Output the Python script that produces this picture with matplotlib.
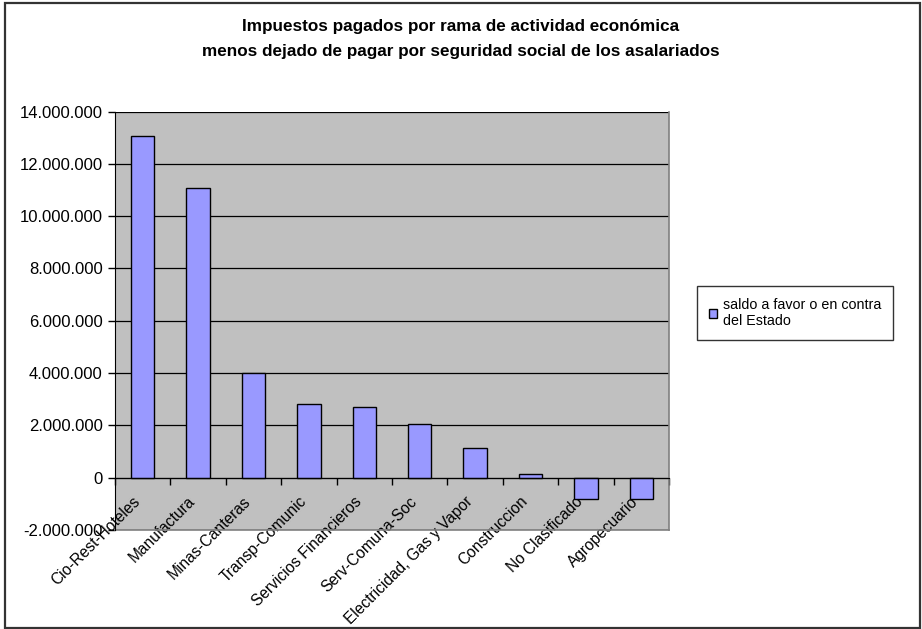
import matplotlib
matplotlib.use("Agg")
import matplotlib.pyplot as plt
from matplotlib.patches import Rectangle
from matplotlib.ticker import FuncFormatter, FixedLocator
import matplotlib.transforms as mtransforms
import numpy as np

categories = ["Cio-Rest-Hoteles", "Manufactura", "Minas-Canteras", "Transp-Comunic",
              "Servicios Financieros", "Serv-Comuna-Soc", "Electricidad, Gas y Vapor",
              "Construccion", "No Clasificado", "Agropecuario"]
values = [13070000, 11090000, 4020000, 2820000, 2690000, 2070000, 1150000, 130000, -800000, -800000]
series_name = "saldo a favor o en contra\ndel Estado"
title = "Impuestos pagados por rama de actividad económica\nmenos dejado de pagar por seguridad social de los asalariados"
yticks = [-2000000, 0, 2000000, 4000000, 6000000, 8000000, 10000000, 12000000, 14000000]

plt.rcParams['font.family'] = ['Liberation Sans', 'DejaVu Sans']
plt.rcParams['axes.unicode_minus'] = False

fig = plt.figure(figsize=(9.22, 6.29), dpi=100)
fig.patches.append(Rectangle((5/922, 1-628/629), 915/922, 625/629, transform=fig.transFigure,
                             fill=False, edgecolor='#333333', linewidth=1.6))

ax = fig.add_axes([115/922, 1-530/629, (669-115)/922, (530-111.5)/629])
ax.set_facecolor('#C0C0C0')
x = np.arange(len(categories))
ax.bar(x, values, width=0.42, color='#9999FF', edgecolor='black', linewidth=1.0,
       label=series_name, zorder=3)
ax.set_xlim(-0.5, len(categories) - 0.5)
ax.set_ylim(-2000000, 14000000)
ax.set_yticks(yticks)
ax.yaxis.set_major_formatter(FuncFormatter(lambda v, p: f"{int(v):,}".replace(",", ".")))
ax.grid(axis='y', color='black', linewidth=0.9, zorder=1)
ax.tick_params(axis='y', labelsize=12, length=5, width=1, direction='out', pad=4)

# x axis at zero
ax.spines['bottom'].set_position(('data', 0))
ax.spines['bottom'].set_zorder(4)
ax.spines['left'].set_color('black')
for s in ['top', 'right']:
    ax.spines[s].set_visible(False)
ax.plot([1, 1], [0, 1], transform=ax.transAxes, color='#808080', lw=1.2, clip_on=False)
ax.plot([0, 1], [0, 0], transform=ax.transAxes, color='#808080', lw=1.2, clip_on=False)

ax.xaxis.set_major_locator(FixedLocator(np.arange(-0.5, len(categories), 1.0)))
ax.xaxis.set_minor_locator(FixedLocator(x))
ax.set_xticklabels([], minor=False)
ax.set_xticklabels(categories, minor=True, rotation=45, ha='right', va='center',
                   rotation_mode='anchor', fontsize=11.2)
ax.tick_params(axis='x', which='major', length=5, width=1, direction='out')
ax.tick_params(axis='x', which='minor', length=0, pad=14)
offset = mtransforms.ScaledTranslation(-5/100, -2/100, fig.dpi_scale_trans)
for lbl in ax.get_xticklabels(minor=True):
    lbl.set_zorder(5)
    lbl.set_transform(lbl.get_transform() + offset)

fig.text(0.5, 1-39/629, title, ha='center', va='center', fontsize=12.3, fontweight='bold',
         linespacing=1.85)

leg = fig.legend(loc='center', bbox_to_anchor=(795/922, 1-313/629), frameon=True,
                 fontsize=10.3, handlelength=0.6, handleheight=0.6, handletextpad=0.4,
                 borderpad=0.8, labelspacing=0.3, fancybox=False)
leg.get_frame().set_edgecolor('black')
leg.get_frame().set_linewidth(1.0)
for h in leg.legend_handles:
    h.set_linewidth(1.0)

fig.savefig("out.png", dpi=100)
